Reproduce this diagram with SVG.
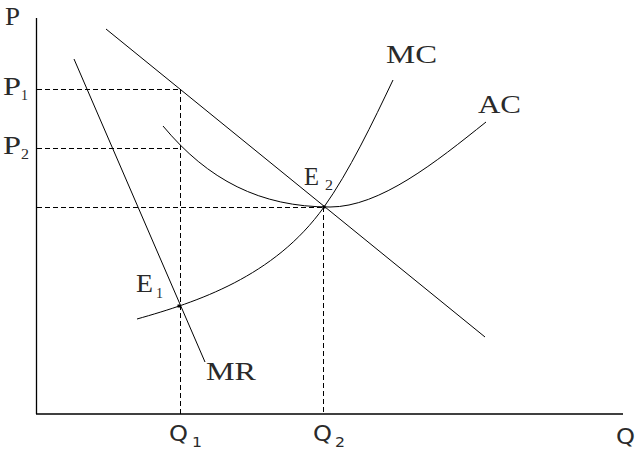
<svg xmlns="http://www.w3.org/2000/svg" width="644" height="455" viewBox="0 0 644 455">
<style>
.ax{stroke:#000;stroke-width:1.3;fill:none}
.ln{stroke:#000;stroke-width:1;fill:none}
.dash{stroke:#000;stroke-width:1;fill:none;stroke-dasharray:5,3}
.s{font-family:"Liberation Serif","DejaVu Serif",serif;fill:#2a2a2a}
.ss{font-family:"DejaVu Sans","Liberation Sans",sans-serif;fill:#2a2a2a}
</style>
<rect width="644" height="455" fill="#fff"/>
<g id="axes">
<line class="ax" x1="36.5" y1="18" x2="36.5" y2="414"/>
<line class="ax" x1="36" y1="414" x2="623" y2="414"/>
<text class="s" x="5" y="25" font-size="25" textLength="15" lengthAdjust="spacingAndGlyphs">P</text>
<text class="ss" x="616" y="444" font-size="21" textLength="19" lengthAdjust="spacingAndGlyphs">Q</text>
</g>
<g id="guides">
<line class="dash" x1="37" y1="89.5" x2="180" y2="89.5"/>
<line class="dash" x1="37" y1="148.5" x2="180" y2="148.5"/>
<line class="dash" x1="180.5" y1="89" x2="180.5" y2="414"/>
<line class="dash" x1="37" y1="207.5" x2="324" y2="207.5"/>
<line class="dash" x1="323.5" y1="207" x2="323.5" y2="414"/>
</g>
<g id="connectors">
<line id="demand" class="ln" x1="106" y1="29" x2="485" y2="337"/>
<line id="mr-line" class="ln" x1="74" y1="59" x2="205" y2="362"/>
<path id="mc-curve" class="ln" d="M137,319 C197,302 274,277 324,207 C349,172 373,122 393,80"/>
<path id="ac-curve" class="ln" d="M163,126 C208,180 260,207 330,207 C380,207 436,162 486,122"/>
</g>
<g id="P1">
<text class="s" x="3" y="95" font-size="25" textLength="18" lengthAdjust="spacingAndGlyphs">P</text>
<text class="s" x="21" y="100" font-size="15" textLength="7" lengthAdjust="spacingAndGlyphs">1</text>
</g>
<g id="P2">
<text class="s" x="3" y="154" font-size="25" textLength="18" lengthAdjust="spacingAndGlyphs">P</text>
<text class="s" x="21" y="159" font-size="15" textLength="8" lengthAdjust="spacingAndGlyphs">2</text>
</g>
<g id="MC">
<text class="s" x="386" y="63" font-size="25" textLength="51" lengthAdjust="spacingAndGlyphs">MC</text>
</g>
<g id="AC">
<text class="s" x="478" y="113" font-size="25" textLength="43" lengthAdjust="spacingAndGlyphs">AC</text>
</g>
<g id="MR">
<text class="s" x="206" y="380" font-size="25" textLength="50" lengthAdjust="spacingAndGlyphs">MR</text>
</g>
<g id="E1">
<rect x="177.5" y="304.5" width="3" height="3" fill="#000"/>
<text class="s" x="136" y="292" font-size="25" textLength="17" lengthAdjust="spacingAndGlyphs">E</text>
<text class="s" x="156" y="298" font-size="15" textLength="7" lengthAdjust="spacingAndGlyphs">1</text>
</g>
<g id="E2">
<rect x="322.5" y="205.5" width="3" height="3" fill="#000"/>
<text class="s" x="304" y="185" font-size="25" textLength="15" lengthAdjust="spacingAndGlyphs">E</text>
<text class="s" x="325" y="190" font-size="15" textLength="8" lengthAdjust="spacingAndGlyphs">2</text>
</g>
<g id="Q1">
<text class="ss" x="169" y="441" font-size="21" textLength="19" lengthAdjust="spacingAndGlyphs">Q</text>
<text class="ss" x="192" y="447" font-size="14" textLength="10" lengthAdjust="spacingAndGlyphs">1</text>
</g>
<g id="Q2">
<text class="ss" x="313" y="441" font-size="21" textLength="19" lengthAdjust="spacingAndGlyphs">Q</text>
<text class="ss" x="335" y="447" font-size="14" textLength="10" lengthAdjust="spacingAndGlyphs">2</text>
</g>
</svg>
